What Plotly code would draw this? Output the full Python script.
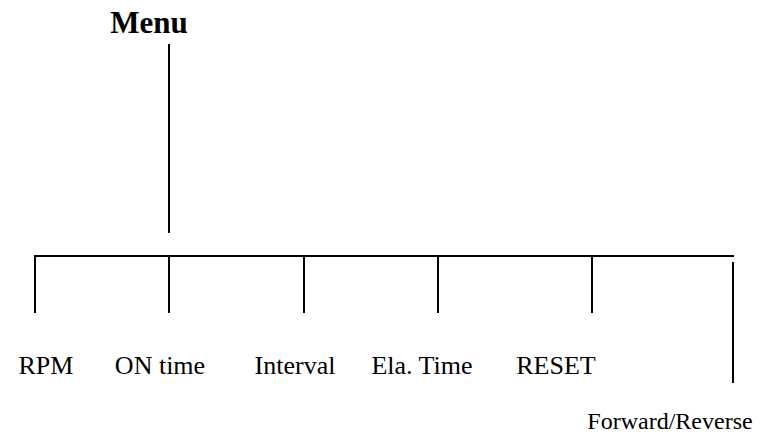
import plotly.graph_objects as go

# Tree data
root_label = "Menu"
child_labels = ["RPM", "ON time", "Interval", "Ela. Time", "RESET", "Forward/Reverse"]
child_x = [35, 169, 304, 438, 592, 733]          # branch positions along the bus
label_x = [46, 160, 295, 422, 556, 670]          # label centres
root_x = 169

W, H = 773, 434
fig = go.Figure()

SERIF = "Liberation Serif, Times New Roman, serif"

def seg(x0, y0, x1, y1, w=2):
    fig.add_trace(go.Scatter(x=[x0, x1], y=[y0, y1], mode="lines",
                             line=dict(color="black", width=w),
                             hoverinfo="skip", showlegend=False))

# root stem
seg(root_x, 44, root_x, 233)
# bus
seg(child_x[0] - 1, 256, child_x[-1] + 1, 256)
# branches
for i, cx in enumerate(child_x):
    if i < len(child_x) - 1:
        seg(cx, 256, cx, 313)
    else:
        seg(cx, 262, cx, 383)

# labels
fig.add_trace(go.Scatter(x=[149], y=[25], mode="text", text=["<b>" + root_label + "</b>"],
                         textfont=dict(family=SERIF, size=31, color="black"),
                         cliponaxis=False, hoverinfo="skip", showlegend=False))
fig.add_trace(go.Scatter(x=label_x[:-1], y=[367] * 5, mode="text", text=child_labels[:-1],
                         textfont=dict(family=SERIF, size=26, color="black"),
                         cliponaxis=False, hoverinfo="skip", showlegend=False))
fig.add_trace(go.Scatter(x=[label_x[-1]], y=[423], mode="text", text=[child_labels[-1]],
                         textfont=dict(family=SERIF, size=24, color="black"),
                         cliponaxis=False, hoverinfo="skip", showlegend=False))

fig.update_xaxes(range=[0, W], visible=False, fixedrange=True)
fig.update_yaxes(range=[H, 0], visible=False, fixedrange=True)
fig.update_layout(width=W, height=H, margin=dict(l=0, r=0, t=0, b=0),
                  paper_bgcolor="white", plot_bgcolor="white")
fig.write_html("out.html", config={"displayModeBar": False},
               post_script="document.body.style.margin='0px';")
